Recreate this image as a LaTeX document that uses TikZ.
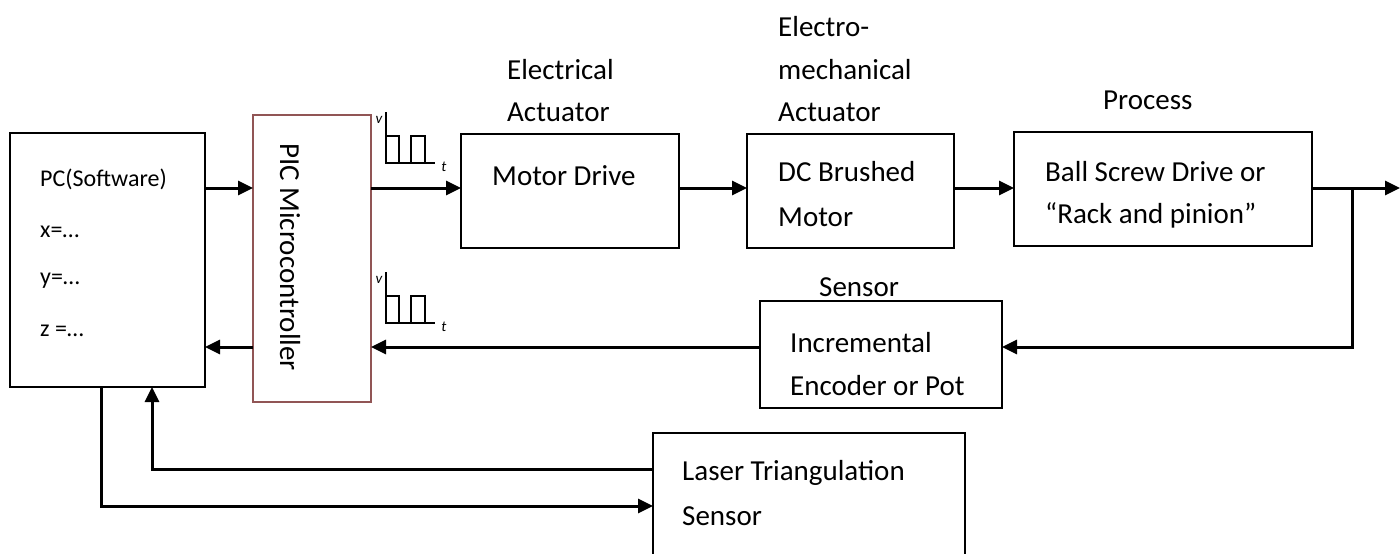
\documentclass[tikz,border=0pt]{standalone}
\usepackage{fontspec}
\setmainfont{Carlito}
\usetikzlibrary{arrows.meta,calc}
\definecolor{picred}{RGB}{145,85,85}
\begin{document}
\begin{tikzpicture}[x=1pt,y=-1pt,
  box/.style={draw, line width=1.4pt, rectangle, anchor=north west, inner sep=0pt, outer sep=0pt},
  lbl/.style={font=\fontsize{29}{35}\selectfont, inner sep=0pt, anchor=west},
  smalltxt/.style={font=\fontsize{24}{29}\selectfont, inner sep=0pt, anchor=west},
  axlbl/.style={font=\fontsize{15}{18}\selectfont\itshape, inner sep=0pt},
  arr/.style={line width=3pt, -{Triangle[length=15pt,width=14pt]}},
  sig/.style={line width=1.4pt}]
\useasboundingbox (0,0) rectangle (1400,554);
\clip (0,0) rectangle (1400,554);

% boxes
\node[box, minimum width=195pt, minimum height=254pt] (pc) at (10,133) {};
\node[box, draw=picred, minimum width=118pt, minimum height=287pt] (pic) at (253,115) {};
\node[box, minimum width=218pt, minimum height=114pt] (md) at (461,134) {};
\node[box, minimum width=207pt, minimum height=114pt] (dc) at (747,134) {};
\node[box, minimum width=298pt, minimum height=114pt] (proc) at (1014,132) {};
\node[box, minimum width=242pt, minimum height=107pt] (enc) at (760,301) {};
\node[box, minimum width=312pt, minimum height=150pt] (laser) at (653,433) {};

% texts
\node[smalltxt] (pct) at (40,179) {PC(Software)};
\node[smalltxt] (pcx) at (40,232) {x=…};
\node[smalltxt] (pcy) at (40,281) {y=…};
\node[smalltxt] (pcz) at (40,331) {z =…};
\node[font=\fontsize{29}{35}\selectfont, inner sep=0pt, rotate=-90] (pict) at (290,257) {PIC Microcontroller};
\node[lbl] (mdt) at (492,176) {Motor Drive};
\node[lbl] (dct1) at (778,172) {DC Brushed};
\node[lbl] (dct2) at (778,217) {Motor};
\node[lbl] (prt1) at (1045,172) {Ball Screw Drive or};
\node[lbl] (prt2) at (1045,215) {“Rack and pinion”};
\node[lbl] (enct1) at (790,343) {Incremental};
\node[lbl] (enct2) at (790,386) {Encoder or Pot};
\node[lbl] (lst1) at (682,473) {Laser Triangulation};
\node[lbl] (lst2) at (682,516) {Sensor};

% labels above
\node[lbl] (ea1) at (507,70) {Electrical};
\node[lbl] (ea2) at (507,112) {Actuator};
\node[lbl] (em1) at (778,27) {Electro-};
\node[lbl] (em2) at (778,70) {mechanical};
\node[lbl] (em3) at (778,112) {Actuator};
\node[lbl] (prl) at (1103,100) {Process};
\node[lbl] (snl) at (819,287) {Sensor};

% pulse icons
\draw[sig] (386,112) -- (386,163) -- (435,163);
\draw[sig] (386,136) -- (399,136) -- (399,163);
\draw[sig] (411,163) -- (411,136) -- (425,136) -- (425,163);
\node[axlbl] (v1) at (379,120) {v};
\node[axlbl] (t1) at (444,167) {t};
\draw[sig] (386,272) -- (386,323) -- (435,323);
\draw[sig] (386,296) -- (399,296) -- (399,323);
\draw[sig] (411,323) -- (411,296) -- (425,296) -- (425,323);
\node[axlbl] (v2) at (379,280) {v};
\node[axlbl] (t2) at (444,327) {t};

% connectors
\coordinate (out) at (1400,188);
\coordinate (br) at (1352,188);
\draw[arr] (pc.east |- 0,188) -- (pic.west |- 0,188);
\draw[arr] (pic.east |- 0,188) -- (md.west |- 0,188);
\draw[arr] (md.east |- 0,188) -- (dc.west |- 0,188);
\draw[arr] (dc.east |- 0,188) -- (proc.west |- 0,188);
\draw[arr] (proc.east |- 0,188) -- (out);
\draw[arr] (br) -- (br |- 0,347) -- (enc.east |- 0,347);
\draw[arr] (enc.west |- 0,347) -- (pic.east |- 0,347);
\draw[arr] (pic.west |- 0,347) -- (pc.east |- 0,347);
\draw[arr] (pc.south -| 101,0) -- (101,506) -- (laser.west |- 0,506);
\draw[arr] (laser.west |- 0,469) -- (152,469) -- (pc.south -| 152,0);
\end{tikzpicture}
\end{document}
